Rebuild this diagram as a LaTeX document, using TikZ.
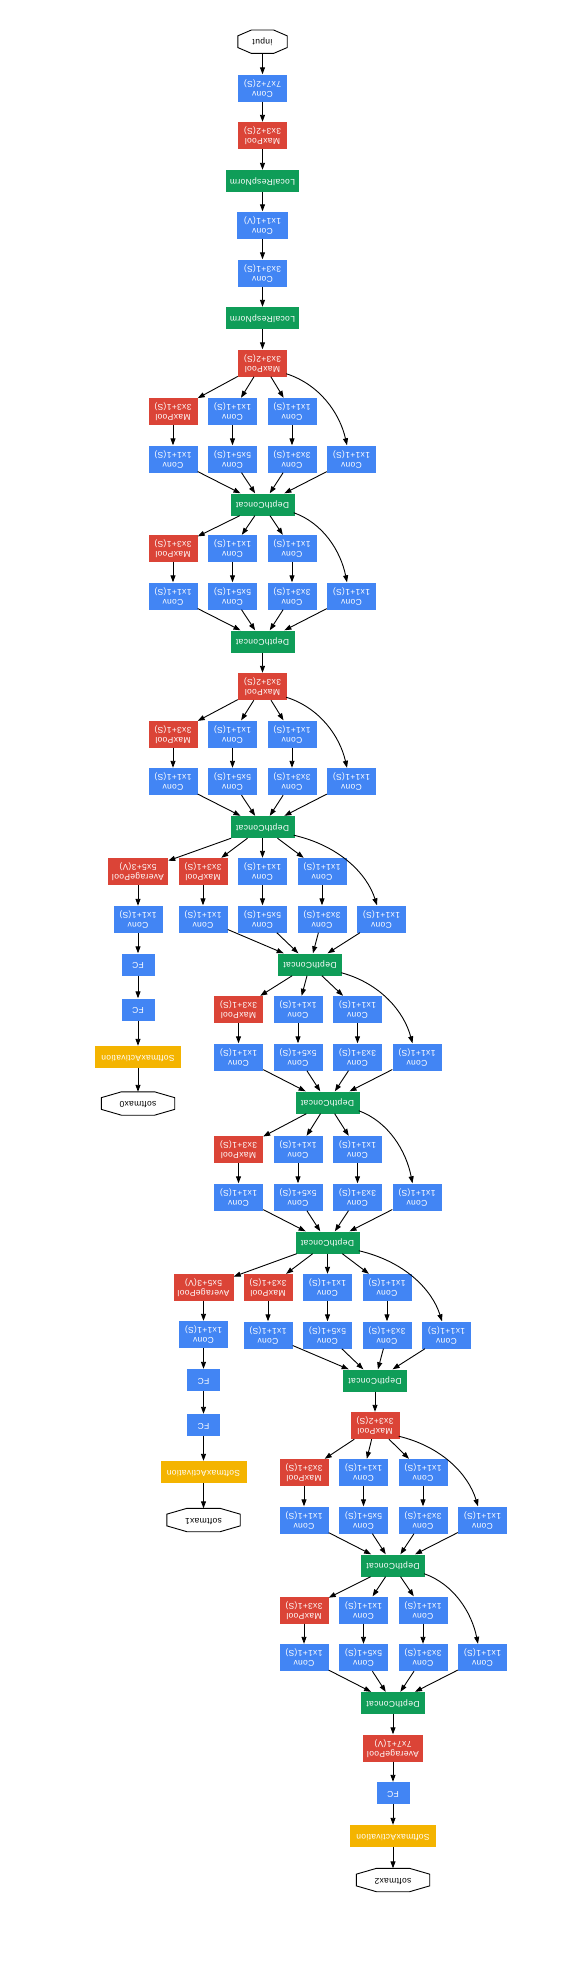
\documentclass[tikz,border=0pt]{standalone}
\usepackage{fontspec}
\setmainfont[LetterSpace=4]{Liberation Sans}
\usepackage{graphicx}
\usetikzlibrary{arrows.meta,calc}
\definecolor{gblue}{HTML}{4285F4}
\definecolor{gred}{HTML}{DB4437}
\definecolor{ggreen}{HTML}{0F9D58}
\definecolor{gyellow}{HTML}{F4B400}
\newcommand\ud[1]{\rotatebox[origin=c]{180}{\begin{tabular}{@{}c@{}}#1\end{tabular}}}
\newcommand\octo[1]{\draw[line width=0.9pt] ($(#1.north)!0.45!(#1.north west)$) -- ($(#1.north)!0.45!(#1.north east)$) -- ($(#1.east)!0.5!(#1.north east)$) -- ($(#1.east)!0.5!(#1.south east)$) -- ($(#1.south)!0.45!(#1.south east)$) -- ($(#1.south)!0.45!(#1.south west)$) -- ($(#1.west)!0.5!(#1.south west)$) -- ($(#1.west)!0.5!(#1.north west)$) -- cycle;}
\newcommand\curv[2]{\draw[arr] let \p1=([xshift=-1pt,yshift=3pt]#1.south east), \p2=([xshift=-4.5pt]#2.north) in (\p1) .. controls ($(\p1)+(0.55*\x2-0.55*\x1,0.15*\y2-0.15*\y1)$) and ($(\p2)+(0.12*\x1-0.12*\x2,0.45*\y1-0.45*\y2)$) .. (\p2);}
\newcommand\incep[5]{%
  \node[pool] (#1-p) at (#3,#4) {\ud{MaxPool\\3x3+1(S)}};
  \node[conv] (#1-a) at ({#3+59.5},#4) {\ud{Conv\\1x1+1(S)}};
  \node[conv] (#1-b) at ({#3+119},#4) {\ud{Conv\\1x1+1(S)}};
  \node[conv] (#1-c1) at (#3,{#4+47.5}) {\ud{Conv\\1x1+1(S)}};
  \node[conv] (#1-c5) at ({#3+59.5},{#4+47.5}) {\ud{Conv\\5x5+1(S)}};
  \node[conv] (#1-c3) at ({#3+119},{#4+47.5}) {\ud{Conv\\3x3+1(S)}};
  \node[conv] (#1-c4) at ({#3+178.5},{#4+47.5}) {\ud{Conv\\1x1+1(S)}};
  \node[dc] (#1-dc) at (#5,{#4+93}) {\ud{DepthConcat}};
  \draw[arr] (#2) -- (#1-p);
  \draw[arr] (#2) -- (#1-a);
  \draw[arr] (#2) -- (#1-b);
  \curv{#2}{#1-c4}
  \draw[arr] (#1-p) -- (#1-c1);
  \draw[arr] (#1-a) -- (#1-c5);
  \draw[arr] (#1-b) -- (#1-c3);
  \draw[arr] (#1-c1) -- (#1-dc);
  \draw[arr] (#1-c5) -- (#1-dc);
  \draw[arr] (#1-c3) -- (#1-dc);
  \draw[arr] (#1-c4) -- (#1-dc);
}
\begin{document}
\begin{tikzpicture}[x=1pt,y=-1pt,
  every node/.style={inner sep=0pt,font=\fontsize{8.5}{10}\selectfont,text=white},
  box/.style={rectangle,minimum height=27pt,minimum width=49pt},
  conv/.style={box,fill=gblue},
  pool/.style={box,fill=gred},
  avg/.style={box,fill=gred,minimum width=60pt},
  lrn/.style={rectangle,fill=ggreen,minimum width=73pt,minimum height=22pt},
  dc/.style={rectangle,fill=ggreen,minimum width=64pt,minimum height=22pt},
  fc/.style={rectangle,fill=gblue,minimum width=33pt,minimum height=22pt},
  sm/.style={rectangle,fill=gyellow,minimum width=86pt,minimum height=22pt},
  oct/.style={rectangle,text=black,minimum width=73pt,minimum height=23pt},
  arr/.style={-{Triangle[length=7pt,width=5pt]},line width=0.9pt,black}]
\fill[white] (0,0) rectangle (584,1984);
\useasboundingbox (0,0) rectangle (584,1984);
% stem
\node[oct,minimum width=49pt] (input) at (262.5,41.7) {\ud{input}};
\octo{input}
\node[conv] (conv1) at (262.5,88) {\ud{Conv\\7x7+2(S)}};
\node[pool] (pool1) at (262.5,135.5) {\ud{MaxPool\\3x3+2(S)}};
\node[lrn] (lrn1) at (262.5,181) {\ud{LocalRespNorm}};
\node[conv,minimum width=51pt] (conv2) at (262.5,225) {\ud{Conv\\1x1+1(V)}};
\node[conv] (conv3) at (262.5,273) {\ud{Conv\\3x3+1(S)}};
\node[lrn] (lrn2) at (262.5,318) {\ud{LocalRespNorm}};
\node[pool] (pool2) at (262.5,363) {\ud{MaxPool\\3x3+2(S)}};
\draw[arr] (input) -- (conv1);
\draw[arr] (conv1) -- (pool1);
\draw[arr] (pool1) -- (lrn1);
\draw[arr] (lrn1) -- (conv2);
\draw[arr] (conv2) -- (conv3);
\draw[arr] (conv3) -- (lrn2);
\draw[arr] (lrn2) -- (pool2);
% inception 3
\incep{i3a}{pool2}{173}{411.5}{262.5}
\incep{i3b}{i3a-dc}{173}{548.5}{262.5}
\node[pool] (pool3) at (262.5,686.5) {\ud{MaxPool\\3x3+2(S)}};
\draw[arr] (i3b-dc) -- (pool3);
% inception 4
\incep{i4a}{pool3}{173}{734}{262.5}
\incep{i4b}{i4a-dc}{203}{871.5}{310}
\node[avg] (ap0) at (138,871.5) {\ud{AveragePool\\5x5+3(V)}};
\node[conv] (ac0) at (138,919.5) {\ud{Conv\\1x1+1(S)}};
\node[fc] (fa0) at (138,964.5) {\ud{FC}};
\node[fc] (fb0) at (138,1009.5) {\ud{FC}};
\node[sm] (sm0) at (138,1057) {\ud{SoftmaxActivation}};
\node[oct] (out0) at (138,1103.5) {\ud{softmax0}};
\octo{out0}
\draw[arr] (i4a-dc) -- (ap0);
\draw[arr] (ap0) -- (ac0);
\draw[arr] (ac0) -- (fa0);
\draw[arr] (fa0) -- (fb0);
\draw[arr] (fb0) -- (sm0);
\draw[arr] (sm0) -- (out0);
\incep{i4c}{i4b-dc}{238.5}{1009.5}{327.5}
\incep{i4d}{i4c-dc}{238.5}{1149.5}{327.5}
\incep{i4e}{i4d-dc}{268}{1287.5}{375}
\node[avg] (ap1) at (203.5,1287.5) {\ud{AveragePool\\5x5+3(V)}};
\node[conv] (ac1) at (203.5,1334.5) {\ud{Conv\\1x1+1(S)}};
\node[fc] (fa1) at (203.5,1380) {\ud{FC}};
\node[fc] (fb1) at (203.5,1425) {\ud{FC}};
\node[sm] (sm1) at (203.5,1472) {\ud{SoftmaxActivation}};
\node[oct] (out1) at (203.5,1520) {\ud{softmax1}};
\octo{out1}
\draw[arr] (i4d-dc) -- (ap1);
\draw[arr] (ap1) -- (ac1);
\draw[arr] (ac1) -- (fa1);
\draw[arr] (fa1) -- (fb1);
\draw[arr] (fb1) -- (sm1);
\draw[arr] (sm1) -- (out1);
\node[pool] (pool4) at (375,1425.5) {\ud{MaxPool\\3x3+2(S)}};
\draw[arr] (i4e-dc) -- (pool4);
% inception 5
\incep{i5a}{pool4}{304}{1472.5}{393}
\incep{i5b}{i5a-dc}{304}{1610}{393}
\node[avg] (ap2) at (393,1748) {\ud{AveragePool\\7x7+1(V)}};
\node[fc] (fc2) at (393,1793) {\ud{FC}};
\node[sm] (sm2) at (393,1836) {\ud{SoftmaxActivation}};
\node[oct] (out2) at (393,1880) {\ud{softmax2}};
\octo{out2}
\draw[arr] (i5b-dc) -- (ap2);
\draw[arr] (ap2) -- (fc2);
\draw[arr] (fc2) -- (sm2);
\draw[arr] (sm2) -- (out2);
\end{tikzpicture}
\end{document}
